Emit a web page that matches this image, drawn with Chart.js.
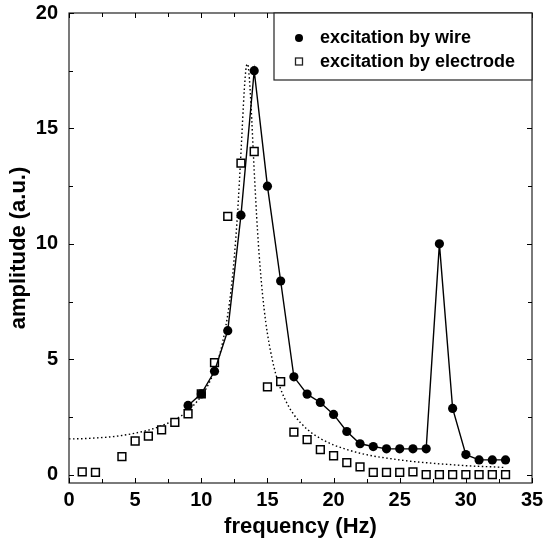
<!DOCTYPE html>
<html><head><meta charset="utf-8">
<script src="https://cdn.jsdelivr.net/npm/chart.js@4/dist/chart.umd.min.js"></script>
<style>html,body{margin:0;padding:0;background:#fff;}#wrap{width:543px;height:540px;}</style>
</head><body><div id="wrap"><canvas id="c" width="543" height="540"></canvas></div>
<script>
const wireFreq = [9,10,11,12,13,14,15,16,17,18,19,20,21,22,23,24,25,26,27,28,29,30,31,32,33];
const wireAmp  = [3.0,3.5,4.48,6.24,11.24,17.5,12.5,8.39,4.24,3.49,3.13,2.61,1.87,1.34,1.22,1.12,1.12,1.12,1.12,10.0,2.87,0.87,0.64,0.64,0.64];
const electrodeFreq = [1,2,4,5,6,7,8,9,10,11,12,13,14,15,16,17,18,19,20,21,22,23,24,25,26,27,28,29,30,31,32,33];
const electrodeAmp  = [0.12,0.1,0.78,1.46,1.67,1.94,2.27,2.64,3.5,4.85,11.19,13.5,14.0,3.8,4.03,1.84,1.52,1.09,0.82,0.52,0.34,0.1,0.1,0.1,0.12,0.0,0.0,0.0,0.0,0.0,0.0,0.0];
const fitFreq = [0,1,2,3,4,5,6,7,8,9,10,10.5,11,11.5,12,12.25,12.5,12.75,13,13.25,13.4,13.5,13.6,13.75,14,14.25,14.5,14.75,15,15.5,16,16.5,17,18,19,20,21,22,23,24,25,26,27,28,29,30,31,32,33];
const fitAmp  = [1.55,1.56,1.59,1.63,1.70,1.80,1.93,2.12,2.38,2.78,3.40,3.87,4.51,5.45,6.93,8.01,9.46,11.41,13.96,16.66,17.67,17.79,17.41,16.10,13.17,10.57,8.62,7.18,6.11,4.65,3.71,3.07,2.60,1.97,1.57,1.29,1.09,0.93,0.81,0.72,0.64,0.57,0.52,0.47,0.43,0.39,0.36,0.34,0.31];
const xTicks = [0,5,10,15,20,25,30,35];
const yTicks = [0,5,10,15,20];
const seriesNames = ['excitation by wire','excitation by electrode'];

const toPts = (xs, ys) => xs.map((x, i) => ({x: x, y: ys[i]}));
const FONT = '"Liberation Sans", Arial, Helvetica, sans-serif';

const framePlugin = {
  id: 'frame',
  afterDatasetsDraw(chart) {
    const ctx = chart.ctx, a = chart.chartArea;
    const xs = chart.scales.x, ys = chart.scales.y;
    ctx.save();
    ctx.strokeStyle = '#222';
    ctx.lineWidth = 1.2;
    ctx.strokeRect(a.left, a.top, a.right - a.left, a.bottom - a.top);
    ctx.lineWidth = 1;
    ctx.strokeStyle = '#000';
    ctx.beginPath();
    for (let v = 0; v <= 35; v += 2.5) {
      const px = Math.round(xs.getPixelForValue(v)) + 0.5;
      const len = (v % 5 === 0) ? 5 : 4;
      ctx.moveTo(px, a.bottom); ctx.lineTo(px, a.bottom - len);
      ctx.moveTo(px, a.top); ctx.lineTo(px, a.top + len);
    }
    for (let v = 0; v <= 20; v += 2.5) {
      const py = Math.round(ys.getPixelForValue(v)) + 0.5;
      const len = (v % 5 === 0) ? 5 : 4;
      ctx.moveTo(a.left, py); ctx.lineTo(a.left + len, py);
      ctx.moveTo(a.right, py); ctx.lineTo(a.right - len, py);
    }
    ctx.stroke();
    // legend box
    const bx = a.left + 205, by = a.top, bw = a.right - bx, bh = 67;
    ctx.fillStyle = '#fff';
    ctx.fillRect(bx, by, bw, bh);
    ctx.strokeStyle = '#222';
    ctx.lineWidth = 1.2;
    ctx.strokeRect(bx, by, bw, bh);
    ctx.fillStyle = '#000';
    ctx.beginPath();
    ctx.arc(bx + 25, by + 25, 4, 0, Math.PI * 2);
    ctx.fill();
    ctx.lineWidth = 1.3;
    ctx.strokeRect(bx + 21.5, by + 45, 7, 7);
    ctx.font = 'bold 18px ' + FONT;
    ctx.textBaseline = 'middle';
    ctx.textAlign = 'left';
    ctx.fillText(seriesNames[0], bx + 46, by + 25);
    ctx.fillText(seriesNames[1], bx + 46, by + 49);
    ctx.restore();
  }
};

new Chart(document.getElementById('c'), {
  type: 'scatter',
  data: {
    datasets: [
      {
        label: 'fit',
        data: toPts(fitFreq, fitAmp),
        showLine: true,
        borderColor: '#000',
        borderWidth: 1.4,
        borderDash: [1.5, 2.5],
        pointRadius: 0,
        cubicInterpolationMode: 'monotone',
        order: 3
      },
      {
        label: seriesNames[1],
        data: toPts(electrodeFreq, electrodeAmp),
        showLine: false,
        pointStyle: 'rect',
        pointRadius: 5.5,
        pointBackgroundColor: '#fff',
        pointBorderColor: '#000',
        pointBorderWidth: 1.5,
        order: 2
      },
      {
        label: seriesNames[0],
        data: toPts(wireFreq, wireAmp),
        showLine: true,
        borderColor: '#000',
        borderWidth: 1.4,
        pointStyle: 'circle',
        pointRadius: 4.6,
        pointBackgroundColor: '#000',
        pointBorderColor: '#000',
        pointBorderWidth: 0,
        order: 1
      }
    ]
  },
  options: {
    responsive: false,
    animation: false,
    devicePixelRatio: 1,
    layout: { padding: { top: 13, right: 11, left: 0, bottom: 0 } },
    plugins: { legend: { display: false }, tooltip: { enabled: false } },
    scales: {
      x: {
        type: 'linear', min: 0, max: 35,
        afterBuildTicks: s => { s.ticks = xTicks.map(v => ({value: v})); },
        afterFit: s => { s.height = 57; s.paddingLeft = 0; s.paddingRight = 0; },
        grid: { display: false, drawTicks: false },
        border: { display: false },
        ticks: { color: '#000', font: { family: FONT, size: 20, weight: 'bold' }, padding: 5, maxRotation: 0 },
        title: { display: true, text: 'frequency (Hz)', color: '#000', font: { family: FONT, size: 22, weight: 'bold' }, padding: { top: 0, bottom: 0 } }
      },
      y: {
        type: 'linear', min: -0.36, max: 20,
        afterBuildTicks: s => { s.ticks = yTicks.map(v => ({value: v})); },
        afterFit: s => { s.width = 69; s.paddingTop = 0; s.paddingBottom = 0; },
        grid: { display: false, drawTicks: false },
        border: { display: false },
        ticks: { color: '#000', font: { family: FONT, size: 20, weight: 'bold' }, padding: 11 },
        title: { display: true, text: 'amplitude (a.u.)', color: '#000', font: { family: FONT, size: 22, weight: 'bold' }, padding: { top: 6, bottom: 0 } }
      }
    }
  },
  plugins: [framePlugin]
});
</script>
</body></html>
